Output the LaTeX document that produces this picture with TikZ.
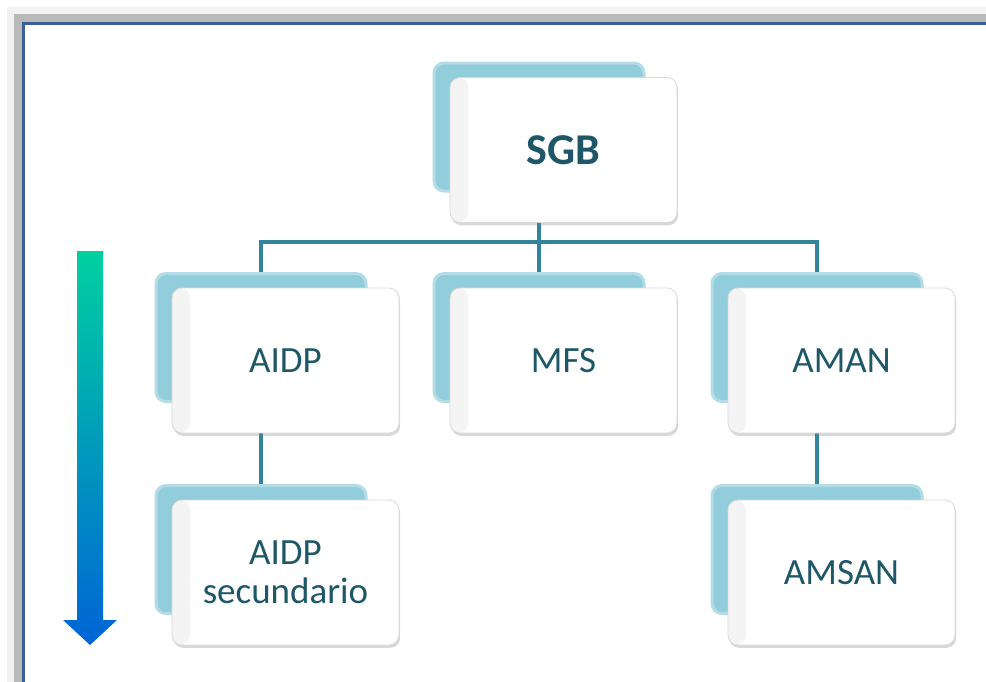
\documentclass[tikz,border=0pt]{standalone}
\usepackage{fontspec}
\setmainfont{Carlito}
\usetikzlibrary{shadows}
\usetikzlibrary{positioning}
\definecolor{frameblue}{RGB}{58,95,150}
\definecolor{linkteal}{RGB}{49,132,155}
\definecolor{shadeblue}{RGB}{146,205,220}
\definecolor{textteal}{RGB}{30,88,104}
\definecolor{arrowtop}{RGB}{0,208,160}
\definecolor{arrowbot}{RGB}{0,100,214}

\begin{document}
\begin{tikzpicture}[x=0.5pt, y=-0.5pt,
    backcard/.style = {rounded corners=5pt, fill=shadeblue,
                draw=shadeblue!70, line width=1.5pt,
                minimum width=105pt, minimum height=64pt, inner sep=0pt},
    card/.style = {rounded corners=5pt, fill=white, draw=gray!30,
                line width=0.4pt, minimum width=113.5pt, minimum height=72.5pt,
                inner sep=0pt, align=center, text=textteal,
                font=\fontsize{18.5}{19.5}\selectfont,
                path picture={\fill[left color=gray!9, right color=white]
                    (path picture bounding box.south west) rectangle
                    ([xshift=9pt]path picture bounding box.north west);},
                drop shadow={shadow xshift=0.6pt, shadow yshift=-1.4pt,
                    opacity=0.3}},
    link/.style = {draw=linkteal, line width=1.7pt}
                    ]
        \useasboundingbox (0,0) rectangle (986,681);
        \clip (0,0) rectangle (986,681);
        % page frame
        \fill[gray!10] (7,7) rectangle (1000,700);
        \fill[gray!55] (14,14) rectangle (1000,700);
        \fill[white] (22,22) rectangle (1000,700);
        \draw[frameblue, line width=1.5pt] (1000,23.5) -- (23.5,23.5) -- (23.5,700);
        % gradient arrow
        \shade[top color=arrowtop, bottom color=arrowbot]
            (77,251) -- (103,251) -- (103,620) -- (117,620) -- (90,645)
            -- (63,620) -- (77,620) -- cycle;
        \def\dx{-24.5}
        \def\dy{-23}
        % back cards
        \foreach \x/\y/\v in {563.5/150/SGB, 285.5/360.5/AIDP, 563.5/360.5/MFS,
                              841.5/360.5/AMAN, 285.5/572.5/SEC, 841.5/572.5/AMSAN}
            \node[backcard] at (\x+\dx,\y+\dy) (\v-sh) {};
        % connectors
        \coordinate (bar) at (539,242);
        \draw[link] (SGB-sh.south) -- (bar);
        \draw[link] (AIDP-sh.north) |- (bar) -| (AMAN-sh.north);
        \draw[link] (bar) -- (MFS-sh.north);
        \draw[link] (AIDP-sh.south) -- (SEC-sh.north);
        \draw[link] (AMAN-sh.south) -- (AMSAN-sh.north);
        % cards
        \node[card, font=\bfseries\fontsize{22}{24}\selectfont] at (563.5,150) (SGB) {SGB};
        \foreach \x/\y/\v/\t in {285.5/360.5/AIDP/AIDP, 563.5/360.5/MFS/MFS,
                                 841.5/360.5/AMAN/AMAN, 285.5/572.5/SEC/AIDP\\secundario,
                                 841.5/572.5/AMSAN/AMSAN}
            \node[card] at (\x,\y) (\v) {\t};
    \end{tikzpicture}
\end{document}
